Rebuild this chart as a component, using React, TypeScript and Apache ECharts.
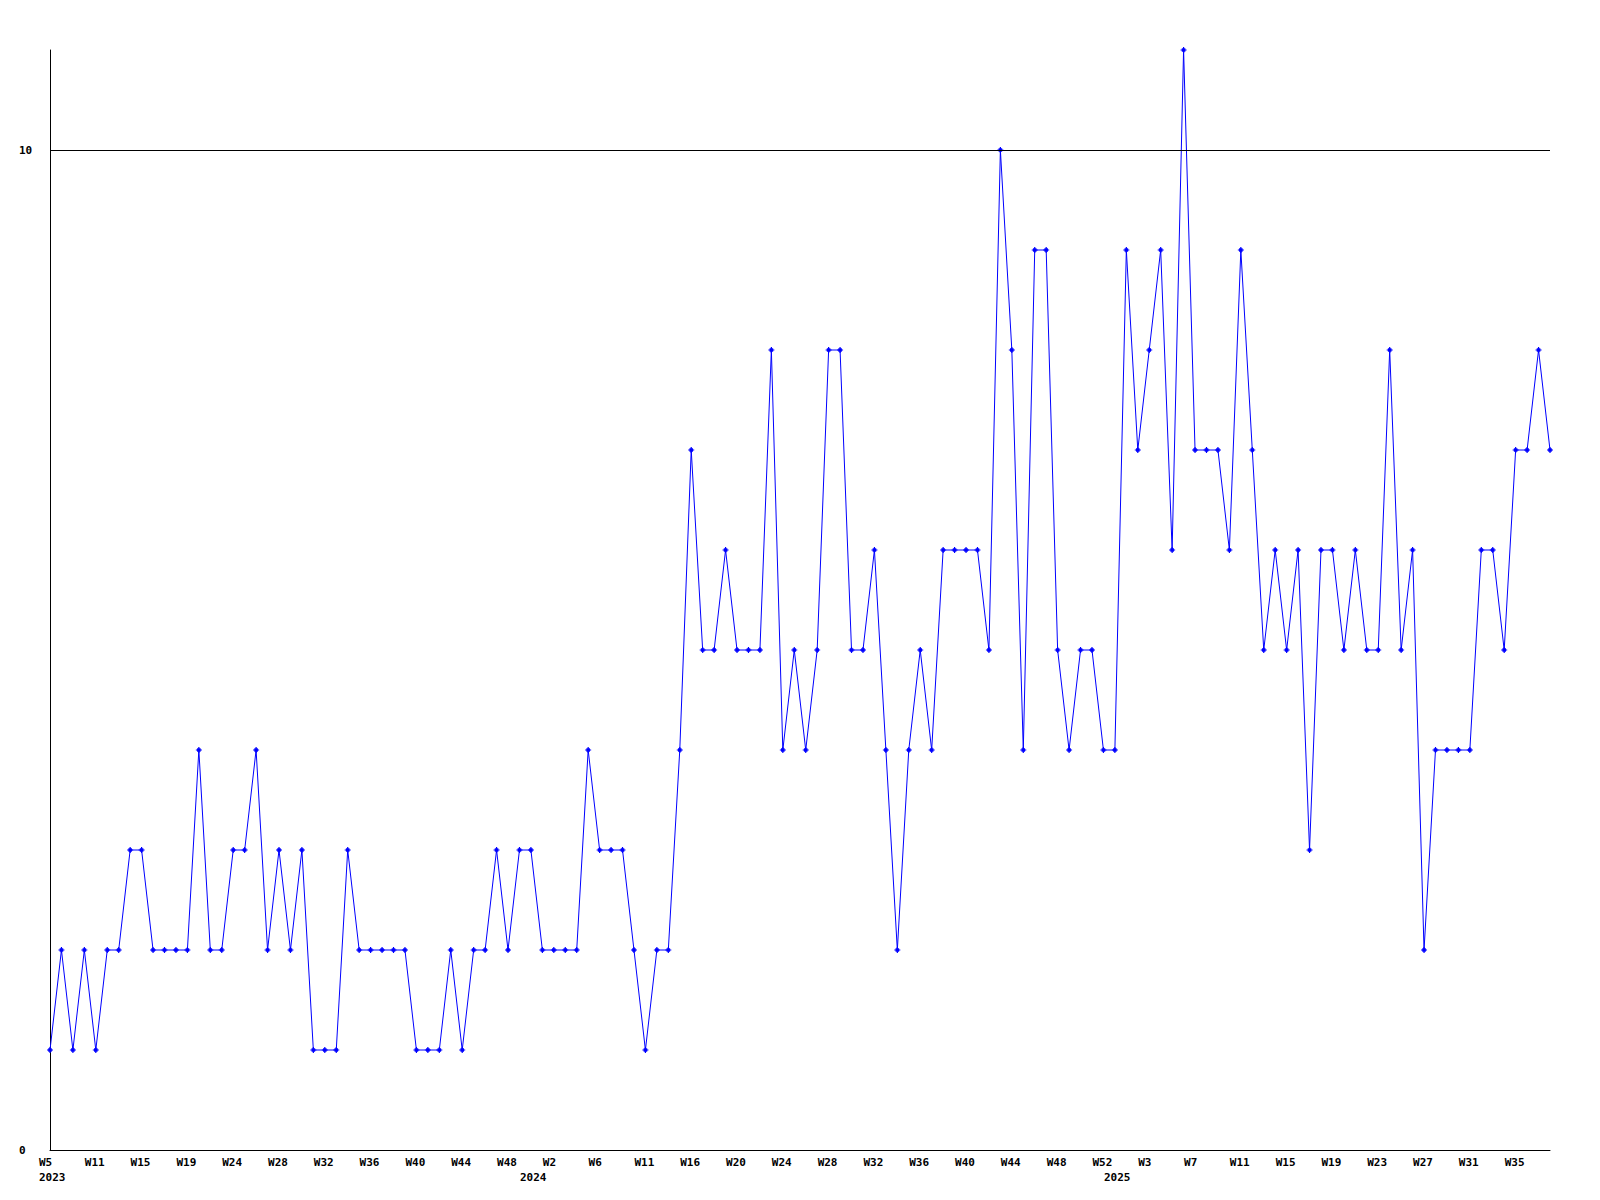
import React, { useEffect, useRef } from "react";
import * as echarts from "echarts";

// Weekly counts, one per plotted point (left to right)
const values: number[] = [
  1, 2, 1, 2, 1, 2, 2, 3, 3, 2,
  2, 2, 2, 4, 2, 2, 3, 3, 4, 2,
  3, 2, 3, 1, 1, 1, 3, 2, 2, 2,
  2, 2, 1, 1, 1, 2, 1, 2, 2, 3,
  2, 3, 3, 2, 2, 2, 2, 4, 3, 3,
  3, 2, 1, 2, 2, 4, 7, 5, 5, 6,
  5, 5, 5, 8, 4, 5, 4, 5, 8, 8,
  5, 5, 6, 4, 2, 4, 5, 4, 6, 6,
  6, 6, 5, 10, 8, 4, 9, 9, 5, 4,
  5, 5, 4, 4, 9, 7, 8, 9, 6, 11,
  7, 7, 7, 6, 9, 7, 5, 6, 5, 6,
  3, 6, 6, 5, 6, 5, 5, 8, 5, 6,
  2, 4, 4, 4, 4, 6, 6, 5, 7, 7, 8, 7,
];

// Point slots on the category axis
const categories: string[] = values.map((_, i) => String(i));

// Week tick labels, shown on every 4th point
const tickLabels: string[] = [
  "W5", "W11", "W15", "W19", "W24", "W28", "W32", "W36", "W40", "W44", "W48",
  "W2", "W6", "W11", "W16", "W20", "W24", "W28", "W32", "W36", "W40", "W44", "W48", "W52",
  "W3", "W7", "W11", "W15", "W19", "W23", "W27", "W31", "W35",
];
const tickEvery = 4;

// Year labels and the point where each year starts
const yearLabels: string[] = ["2023", "2024", "2025"];
const yearStart: number[] = [0, 42, 93];

// Horizontal reference line(s)
const refLines: number[] = [10];

const FONT = "DejaVu Sans Mono";

// plus-shaped marker with a heavier centre
const plusSymbol =
  "path://M2,0L3,0L3,1L4,1L4,2L5,2L5,3L4,3L4,4L3,4L3,5L2,5L2,4L1,4L1,3L0,3L0,2L1,2L1,1L2,1Z";

export default function App() {
  const ref = useRef<HTMLDivElement>(null);

  useEffect(() => {
    if (!ref.current) return;
    const chart = echarts.init(ref.current, undefined, { renderer: "svg" });
    const labelStyle = {
      fontFamily: FONT,
      fontWeight: "bold" as const,
      fontSize: 11,
      color: "#000",
    };
    chart.setOption({
      animation: false,
      backgroundColor: "#fff",
      grid: { left: 50, right: 50, top: 50, bottom: 50, containLabel: false },
      xAxis: [
        {
          type: "category",
          data: categories,
          boundaryGap: false,
          position: "bottom",
          axisLine: { show: true, lineStyle: { color: "#000", width: 1 } },
          axisTick: { show: false },
          splitLine: { show: false },
          axisLabel: {
            ...labelStyle,
            interval: tickEvery - 1,
            margin: 7,
            align: "left",
            padding: [0, 0, 0, -11],
            formatter: (_v: string, idx: number) =>
              tickLabels[Math.round(idx / tickEvery)] ?? "",
          },
        },
        {
          type: "category",
          data: categories,
          boundaryGap: false,
          position: "bottom",
          offset: 0,
          axisLine: { show: false },
          axisTick: { show: false },
          splitLine: { show: false },
          axisLabel: {
            ...labelStyle,
            interval: (idx: number) => yearStart.includes(idx),
            margin: 22,
            align: "left",
            padding: [0, 0, 0, -11],
            formatter: (_v: string, idx: number) => {
              const k = yearStart.indexOf(idx);
              return k >= 0 ? yearLabels[k] : "";
            },
          },
        },
      ],
      yAxis: {
        type: "value",
        min: 0,
        max: 11,
        interval: 10,
        axisLine: { show: true, lineStyle: { color: "#000", width: 1 } },
        axisTick: { show: false },
        splitLine: { show: false },
        axisLabel: {
          ...labelStyle,
          align: "left",
          margin: 31,
          showMaxLabel: false,
        },
      },
      series: [
        {
          type: "line",
          xAxisIndex: 0,
          data: values,
          symbol: plusSymbol,
          symbolSize: 6,
          showAllSymbol: true,
          lineStyle: { color: "#0000ff", width: 1 },
          itemStyle: { color: "#0000ff" },
          clip: false,
          markLine: {
            silent: true,
            symbol: "none",
            label: { show: false },
            lineStyle: { color: "#000", width: 1, type: "solid" },
            data: refLines.map((v) => ({ yAxis: v })),
          },
        },
      ],
    });
    return () => chart.dispose();
  }, []);

  return (
    <div
      ref={ref}
      style={{ position: "absolute", left: 0, top: 0, width: 1600, height: 1200 }}
    />
  );
}
